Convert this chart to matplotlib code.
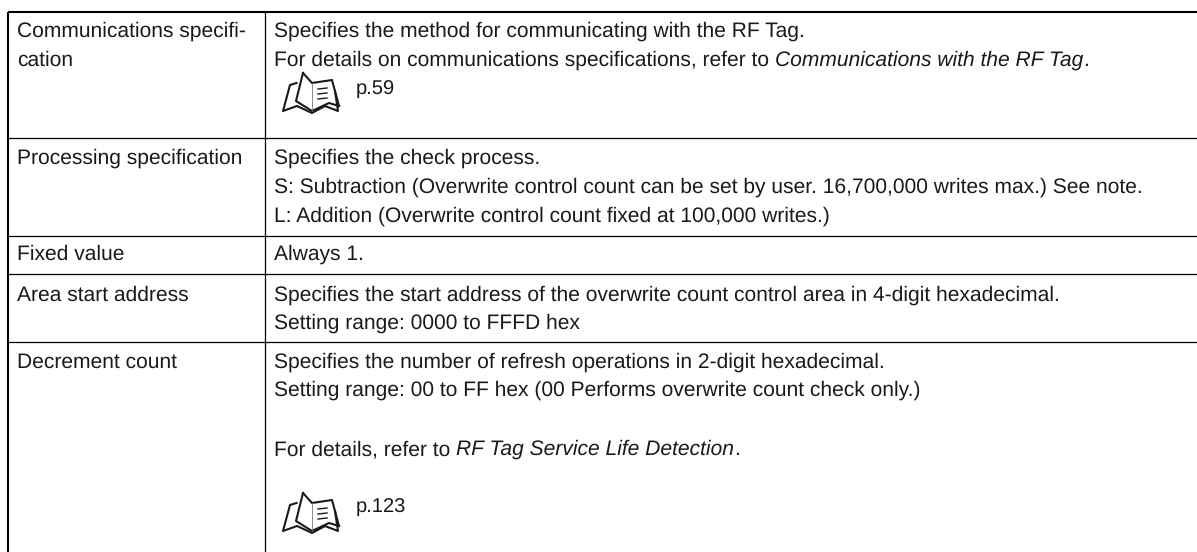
import matplotlib
matplotlib.use('Agg')
import matplotlib.pyplot as plt
import numpy as np

plt.rcParams['font.family'] = ['Liberation Sans']
plt.rcParams['text.hinting'] = 'none'
plt.rcParams['text.hinting_factor'] = 8

W, H = 1197, 552

left_col = ["Communications specifi-", "cation", "Processing specification", "Fixed value",
            "Area start address", "Decrement count"]
left_y = [36.5, 65.5, 164, 260, 300.5, 367.5]
row_lines = [138, 236, 274, 342]
right_lines = [
    (36.5, [("Specifies the method for communicating with the RF Tag.", False)]),
    (65.5, [("For details on communications specifications, refer to ", False),
            ("Communications with the RF Tag", True), (".", False)]),
    (164, [("Specifies the check process.", False)]),
    (193, [("S: Subtraction (Overwrite control count can be set by user. 16,700,000 writes max.) See note.", False)]),
    (222, [("L: Addition (Overwrite control count fixed at 100,000 writes.)", False)]),
    (260, [("Always 1.", False)]),
    (300.5, [("Specifies the start address of the overwrite count control area in 4-digit hexadecimal.", False)]),
    (329, [("Setting range: 0000 to FFFD hex", False)]),
    (367.5, [("Specifies the number of refresh operations in 2-digit hexadecimal.", False)]),
    (396, [("Setting range: 00 to FF hex (00 Performs overwrite count check only.)", False)]),
    (455, [("For details, refer to ", False), ("RF Tag Service Life Detection", True), (".", False)]),
]
refs = ["p.59", "p.123"]
ref_y = [95, 513]
book_top = [73, 493]


def book(ax, x, y):
    # open book icon, x,y is the top left corner of its box (55 x 40 px)
    c = '#1a1a1a'
    def line(xs, ys, lw=1.5, col=c):
        ax.plot(np.array(xs) + x, np.array(ys) + y, c=col, lw=lw)
    line([13.5, 7, 0, 14, 29, 42, 55, 52], [10, 12, 38, 33, 40, 33, 38, 18])
    line([20, 13, 29, 46, 56], [0, 28, 38, 30, 33])
    line([20, 29, 49, 56], [0, 10, 7, 33])
    line([29, 29], [10, 38], lw=0.6, col='#777777')
    for i in range(3):
        line([35, 44], [16+i*5, 15+i*5], lw=1)


fig = plt.figure(figsize=(W/100, H/100), dpi=100)
ax = fig.add_axes([0, 0, 1, 1])
ax.set_xlim(0, W)
ax.set_ylim(H, 0)
ax.axis('off')

ax.plot([7.5, W], [12, 12], c='black', lw=1.5, solid_capstyle='butt')
ax.plot([7.5, 7.5], [11.5, H], c='black', lw=1.5, solid_capstyle='butt')
ax.plot([265, 265], [12, H], c='black', lw=0.9)
for y in row_lines:
    ax.plot([8, W], [y, y], c='black', lw=0.9)

fs = 15.1
for t, y in zip(left_col, left_y):
    ax.text(17, y, t, fontsize=fs, va='baseline', color='#1a1a1a')

rend = fig.canvas.get_renderer()
for y, parts in right_lines:
    x = 274
    for t, it in parts:
        tx = ax.text(x, y, t, fontsize=fs, va='baseline', style='italic' if it else 'normal', color='#1a1a1a')
        x = tx.get_window_extent(rend).x1

for r, y, bt in zip(refs, ref_y, book_top):
    book(ax, 283, bt)
    ax.text(356, y, r, fontsize=14.5, va='baseline', color='#1a1a1a')

fig.savefig('out.png', dpi=100)
